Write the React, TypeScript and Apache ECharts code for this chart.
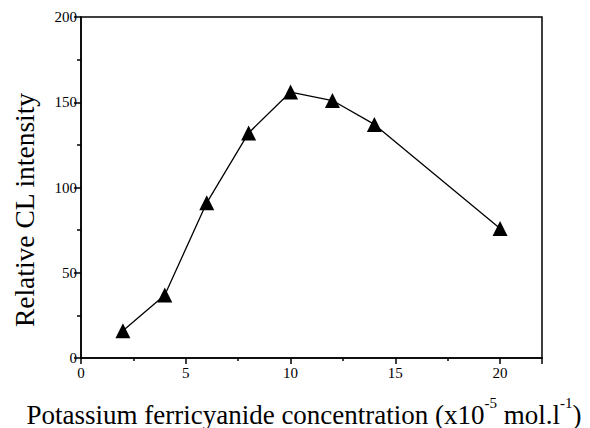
import React, { useEffect, useRef } from "react";
import * as echarts from "echarts";

const xValues = [2, 4, 6, 8, 10, 12, 14, 20];
const yValues = [16, 37, 91, 132, 156, 151, 137, 76];
const xTicks = [0, 5, 10, 15, 20];
const yTicks = [0, 50, 100, 150, 200];

export default function App() {
  const ref = useRef<HTMLDivElement>(null);
  useEffect(() => {
    document.body.style.margin = "0";
    const chart = echarts.init(ref.current!, null, { renderer: "svg" });
    const font = "Liberation Serif";
    chart.setOption({
      animation: false,
      backgroundColor: "#ffffff",
      textStyle: { fontFamily: font },
      grid: { left: 81, right: 48, top: 17, bottom: 70 },
      xAxis: {
        type: "value",
        min: 0,
        max: 22,
        interval: 5,
        axisLine: { show: true, lineStyle: { color: "#000", width: 1.5 } },
        axisTick: { show: true, inside: false, length: 6, lineStyle: { color: "#000", width: 1.5 } },
        minorTick: { show: true, splitNumber: 2, length: 3, lineStyle: { color: "#000", width: 1.5 } },
        splitLine: { show: false },
        axisLabel: {
          color: "#000",
          fontFamily: font,
          fontSize: 15,
          margin: 7,
          formatter: (v: number) => (xTicks.includes(v) ? String(v) : ""),
        },
      },
      yAxis: {
        type: "value",
        min: 0,
        max: 200,
        interval: 50,
        axisLine: { show: true, lineStyle: { color: "#000", width: 1.5 } },
        axisTick: { show: true, inside: false, length: 7, lineStyle: { color: "#000", width: 1.5 } },
        minorTick: { show: true, splitNumber: 2, length: 4, lineStyle: { color: "#000", width: 1.5 } },
        splitLine: { show: false },
        axisLabel: {
          color: "#000",
          fontFamily: font,
          fontSize: 15,
          margin: 4,
          formatter: (v: number) => (yTicks.includes(v) ? String(v) : ""),
        },
      },
      graphic: [
        {
          type: "rect",
          shape: { x: 81, y: 17, width: 461, height: 341 },
          style: { fill: "none", stroke: "#000", lineWidth: 1.5 },
          silent: true,
          z: 0,
        },
        {
          type: "text",
          x: 24,
          y: 210,
          rotation: Math.PI / 2,
          style: {
            text: "Relative CL intensity",
            fontFamily: font,
            fontSize: 27.5,
            fill: "#000",
            align: "center",
            verticalAlign: "middle",
          },
        },
        {
          type: "text",
          x: 304,
          y: 412,
          style: {
            text: "{n|Potassium ferricyanide concentration (x10}{s|-5}{n| mol.l}{s|-1}{n|)}",
            fontFamily: font,
            fill: "#000",
            align: "center",
            verticalAlign: "middle",
            rich: {
              n: { fontFamily: font, fontSize: 27, fill: "#000", verticalAlign: "bottom" },
              s: { fontFamily: font, fontSize: 15, fill: "#000", verticalAlign: "top", padding: [0, 0, 18, 0] },
            },
          },
        },
      ],
      series: [
        {
          type: "line",
          data: xValues.map((x, i) => [x, yValues[i]]),
          symbol: "triangle",
          symbolSize: 15,
          itemStyle: { color: "#000" },
          lineStyle: { color: "#000", width: 1.3 },
          z: 3,
        },
      ],
    });
    return () => chart.dispose();
  }, []);
  return <div ref={ref} style={{ width: 590, height: 428 }} />;
}
